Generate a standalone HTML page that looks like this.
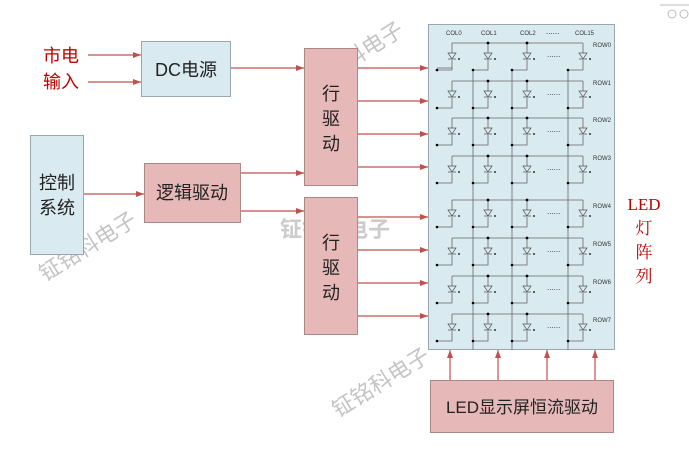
<!DOCTYPE html>
<html><head><meta charset="utf-8"><style>
body{margin:0;background:#fff;width:689px;height:454px;overflow:hidden}
svg{display:block}
.t{font-family:"Liberation Sans","Noto Sans CJK SC",sans-serif;fill:#222}
.s{font-family:"Liberation Sans",sans-serif;font-size:6px;fill:#333}
.w{font-family:"Liberation Sans","Noto Sans CJK SC",sans-serif;fill:#c4c4c4;font-size:22px}
</style></head><body>
<svg width="689" height="454" viewBox="0 0 689 454">
<defs>
<marker id="a" markerWidth="8" markerHeight="6" refX="8" refY="3" orient="auto" markerUnits="userSpaceOnUse"><path d="M0,0L8,3L0,6z" fill="#c0504d"/></marker>
<g id="row">
  <line x1="452" y1="0" x2="583" y2="0" stroke="#666" stroke-width="0.8"/>
  <g stroke="#666" stroke-width="0.8" fill="none">
    <path d="M452,0V10M452,17V27H437"/>
    <path d="M488,0V10M488,17V27H473"/>
    <path d="M527,0V10M527,17V27H512"/>
    <path d="M583,0V10M583,17V27H568"/>
  </g>
  <g fill="none" stroke="#555" stroke-width="0.7">
    <path d="M448,10H456L452,16Z M448,16H456"/>
    <path d="M484,10H492L488,16Z M484,16H492"/>
    <path d="M523,10H531L527,16Z M523,16H531"/>
    <path d="M579,10H587L583,16Z M579,16H587"/>
  </g>
  <g fill="#000"><circle cx="488" cy="0" r="1.4"/><circle cx="527" cy="0" r="1.4"/><circle cx="437" cy="27" r="1.3"/><circle cx="473" cy="27" r="1.3"/><circle cx="512" cy="27" r="1.3"/><circle cx="568" cy="27" r="1.3"/>
  <circle cx="459" cy="16" r="0.9"/><circle cx="495" cy="16" r="0.9"/><circle cx="534" cy="16" r="0.9"/><circle cx="590" cy="16" r="0.9"/></g>
  <text x="547" y="14" style="font-family:'Liberation Sans',sans-serif;font-size:8px;fill:#333">......</text>
</g>
</defs>

<text class="w" transform="translate(312,92) rotate(-32)">钲铭科电子</text>
<text class="w" transform="translate(45,282) rotate(-32)">钲铭科电子</text>
<text class="w" transform="translate(338,418) rotate(-32)">钲铭科电子</text>
<text class="w" x="280" y="237" style="font-weight:bold;fill:#ccc">钲铭科电子</text>

<text x="43" y="62" class="t" style="fill:#c00000;font-size:18px">市电</text>
<text x="43" y="88" class="t" style="fill:#c00000;font-size:18px">输入</text>
<g stroke="#c0504d" stroke-width="1.2" marker-end="url(#a)">
<line x1="88" y1="55" x2="141" y2="55"/><line x1="88" y1="82" x2="141" y2="82"/>
<line x1="230" y1="68" x2="304" y2="68"/>
<line x1="83" y1="194" x2="144" y2="194"/>
<line x1="240" y1="173" x2="304" y2="173"/><line x1="240" y1="211" x2="304" y2="211"/>
<line x1="357" y1="68" x2="428" y2="68"/><line x1="357" y1="101" x2="428" y2="101"/>
<line x1="357" y1="134" x2="428" y2="134"/><line x1="357" y1="167" x2="428" y2="167"/>
<line x1="357" y1="217" x2="428" y2="217"/><line x1="357" y1="250" x2="428" y2="250"/>
<line x1="357" y1="283" x2="428" y2="283"/><line x1="357" y1="316" x2="428" y2="316"/>
</g>
<rect x="141.5" y="41.5" width="89" height="55" fill="#daeaf1" stroke="#9aa7ad"/>
<text x="186" y="76" text-anchor="middle" class="t" style="font-size:18px">DC电源</text>
<rect x="30.5" y="135.5" width="53" height="119" fill="#daeaf1" stroke="#9aa7ad"/>
<text x="57" y="189" text-anchor="middle" class="t" style="font-size:18px">控制</text>
<text x="57" y="214" text-anchor="middle" class="t" style="font-size:18px">系统</text>
<rect x="144.5" y="163.5" width="96" height="59" fill="#e6b8b7" stroke="#a88"/>
<text x="192" y="199" text-anchor="middle" class="t" style="font-size:18px">逻辑驱动</text>
<rect x="304.5" y="48.5" width="53" height="137" fill="#e6b8b7" stroke="#a88"/>
<text x="331" y="100" text-anchor="middle" class="t" style="font-size:18px">行</text>
<text x="331" y="125" text-anchor="middle" class="t" style="font-size:18px">驱</text>
<text x="331" y="150" text-anchor="middle" class="t" style="font-size:18px">动</text>
<rect x="304.5" y="197.5" width="53" height="137" fill="#e6b8b7" stroke="#a88"/>
<text x="331" y="249" text-anchor="middle" class="t" style="font-size:18px">行</text>
<text x="331" y="274" text-anchor="middle" class="t" style="font-size:18px">驱</text>
<text x="331" y="299" text-anchor="middle" class="t" style="font-size:18px">动</text>

<rect x="428.5" y="24.5" width="186" height="325" fill="#daeaf1" stroke="#9aa7ad"/>
<g class="s"><text x="446" y="35">COL0</text><text x="481" y="35">COL1</text><text x="520" y="35">COL2</text><text x="575" y="35">COL15</text></g>
<text x="546" y="34" style="font-family:'Liberation Sans',sans-serif;font-size:8px;fill:#333">......</text>
<g stroke="#666" stroke-width="0.8"><line x1="473" y1="81" x2="473" y2="350"/><line x1="512" y1="81" x2="512" y2="350"/><line x1="568" y1="81" x2="568" y2="350"/>
<line x1="437" y1="68" x2="452" y2="68"/><line x1="473" y1="70" x2="473" y2="81"/><line x1="512" y1="70" x2="512" y2="81"/><line x1="568" y1="70" x2="568" y2="81"/></g>
<use href="#row" transform="translate(0,43)"/>
<use href="#row" transform="translate(0,81)"/>
<use href="#row" transform="translate(0,118)"/>
<use href="#row" transform="translate(0,156)"/>
<use href="#row" transform="translate(0,200)"/>
<use href="#row" transform="translate(0,238)"/>
<use href="#row" transform="translate(0,276)"/>
<use href="#row" transform="translate(0,314)"/>
<g class="s"><text x="593" y="47">ROW0</text><text x="593" y="85">ROW1</text><text x="593" y="122">ROW2</text><text x="593" y="160">ROW3</text><text x="593" y="208">ROW4</text><text x="593" y="246">ROW5</text><text x="593" y="284">ROW6</text><text x="593" y="322">ROW7</text></g>

<g font-family="Liberation Serif,Noto Serif CJK SC,serif" font-size="17" fill="#c00000" text-anchor="middle">
<text x="644" y="210">LED</text><text x="644" y="234">灯</text><text x="644" y="258">阵</text><text x="644" y="282">列</text></g>

<g stroke="#c0504d" stroke-width="1.2" marker-end="url(#a)">
<line x1="450" y1="380" x2="450" y2="350"/><line x1="498" y1="380" x2="498" y2="350"/>
<line x1="547" y1="380" x2="547" y2="350"/><line x1="595" y1="380" x2="595" y2="350"/></g>
<rect x="430.5" y="380.5" width="183" height="52" fill="#e6b8b7" stroke="#a88"/>
<text x="522" y="413" text-anchor="middle" class="t" style="font-size:17px">LED显示屏恒流驱动</text>

<g fill="none" stroke="#bbb"><circle cx="672" cy="14" r="4"/><circle cx="684" cy="14" r="4"/><line x1="660" y1="5" x2="689" y2="5"/></g>
</svg>
</body></html>
